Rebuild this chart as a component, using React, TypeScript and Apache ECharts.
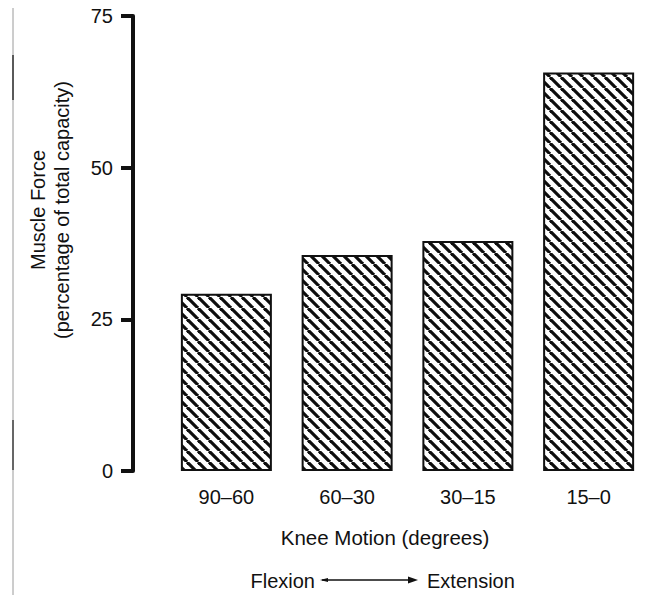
import React, { useEffect, useRef } from "react";
import * as echarts from "echarts";

const categories = ["90–60", "60–30", "30–15", "15–0"];
const muscleForce = [29.2, 35.6, 37.9, 65.7];
const yTicks = { min: 0, max: 75, interval: 25 };
const yTitleLines = ["Muscle Force", "(percentage of total capacity)"];
const xTitle = "Knee Motion (degrees)";
const directionLabels = ["Flexion", "Extension"];

const FONT = '"Liberation Sans", Arial, Helvetica, sans-serif';
const INK = "#111111";
const TILE = 11;

function makeHatch(): HTMLCanvasElement {
  const c = document.createElement("canvas");
  c.width = TILE;
  c.height = TILE;
  const ctx = c.getContext("2d")!;
  ctx.fillStyle = "#ffffff";
  ctx.fillRect(0, 0, TILE, TILE);
  ctx.strokeStyle = "#0d0d0d";
  ctx.lineWidth = 3.2;
  for (const x0 of [-TILE, 0, TILE]) {
    ctx.beginPath();
    ctx.moveTo(x0, 0);
    ctx.lineTo(x0 + TILE, TILE);
    ctx.stroke();
  }
  return c;
}

export default function App() {
  const ref = useRef<HTMLDivElement>(null);
  useEffect(() => {
    if (!ref.current) return;
    const chart = echarts.init(ref.current, undefined, { renderer: "svg" });
    const hatch = makeHatch();
    const text = (x: number, y: number, s: string, align: string, rot = 0, size = 20) => ({
      type: "text",
      x,
      y,
      rotation: rot,
      style: {
        text: s,
        fontSize: size,
        fontFamily: FONT,
        fill: INK,
        align,
        verticalAlign: "middle",
      },
    });
    const option: any = {
      animation: false,
      backgroundColor: "#ffffff",
      textStyle: { fontFamily: FONT, color: INK },
      grid: { left: 166, right: 0, top: 16, bottom: 124, containLabel: false },
      xAxis: {
        type: "category",
        data: categories,
        axisLine: { show: false },
        axisTick: { show: false },
        axisLabel: { fontSize: 20, margin: 16, color: INK, fontFamily: FONT },
      },
      yAxis: {
        type: "value",
        min: yTicks.min,
        max: yTicks.max,
        interval: yTicks.interval,
        offset: 33,
        axisLine: { show: true, lineStyle: { color: INK, width: 4 } },
        axisTick: { show: true, length: 12, lineStyle: { color: INK, width: 4 } },
        splitLine: { show: false },
        axisLabel: { fontSize: 20, margin: 20, color: INK, fontFamily: FONT },
      },
      series: [
        {
          type: "bar",
          data: muscleForce,
          barWidth: 91,
          itemStyle: {
            color: { image: hatch, repeat: "repeat", imageWidth: TILE, imageHeight: TILE },
            borderColor: INK,
            borderWidth: 2,
          },
        },
      ],
      graphic: [
        {
          type: "line",
          shape: { x1: 13, y1: 8, x2: 13, y2: 595 },
          style: { stroke: "#9a9a9a", lineWidth: 1 },
        },
        {
          type: "line",
          shape: { x1: 13, y1: 55, x2: 13, y2: 100 },
          style: { stroke: "#333", lineWidth: 1.5 },
        },
        {
          type: "line",
          shape: { x1: 13, y1: 420, x2: 13, y2: 470 },
          style: { stroke: "#444", lineWidth: 1.5 },
        },
        text(38, 210, yTitleLines[0], "center", Math.PI / 2),
        text(62, 210, yTitleLines[1], "center", Math.PI / 2),
        text(385, 537, xTitle, "center", 0, 20.5),
        text(315, 581, directionLabels[0], "right"),
        text(427, 581, directionLabels[1], "left"),
        {
          type: "line",
          shape: { x1: 322, y1: 580, x2: 412, y2: 580 },
          style: { stroke: INK, lineWidth: 1.3 },
        },
        {
          type: "polygon",
          shape: { points: [[418, 580], [408, 576.5], [408, 583.5]] },
          style: { fill: INK },
        },
        {
          type: "polygon",
          shape: { points: [[320, 580], [328, 578], [328, 582]] },
          style: { fill: INK },
        },
      ],
    };
    chart.setOption(option);
    return () => chart.dispose();
  }, []);
  return (
    <div
      ref={ref}
      style={{ position: "fixed", left: 0, top: 0, width: 649, height: 595, background: "#fff" }}
    />
  );
}
